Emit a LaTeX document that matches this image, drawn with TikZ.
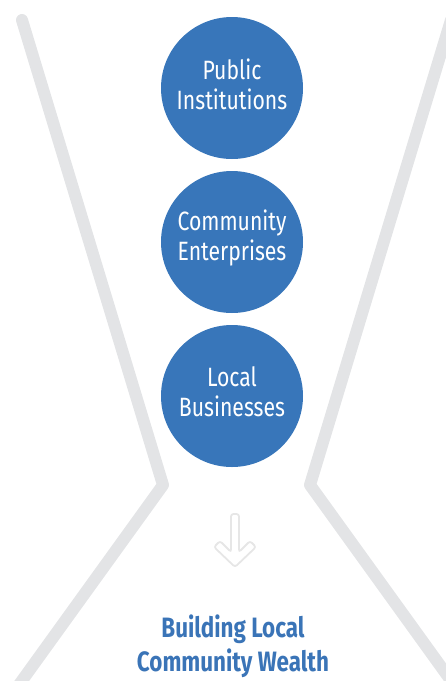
\documentclass[tikz,border=0pt]{standalone}
\usepackage{fontspec}
\newfontfamily\condfont[FakeStretch=0.80]{Fira Sans}
\definecolor{bubbleblue}{HTML}{3876BA}
\definecolor{titleblue}{HTML}{3A74B7}
\definecolor{funnelgray}{HTML}{E3E4E6}
\definecolor{arrowgray}{HTML}{E6E6E6}
\begin{document}
\begin{tikzpicture}[x=1pt,y=-1pt,
  bubble/.style={circle,fill=bubbleblue,minimum size=142pt,inner sep=0pt},
  btext/.style={text=white,align=center,font=\condfont\fontsize{26.5}{30}\selectfont,inner sep=0pt},
  funnel/.style={draw=funnelgray,line width=12pt,line cap=round,line join=round},
  title/.style={text=titleblue,align=center,font=\condfont\bfseries\fontsize{28}{34}\selectfont}]
\useasboundingbox (0,0) rectangle (446,681);
\begin{scope}
\clip (0,0) rectangle (446,681);
\coordinate (ltop) at (22,20);
\coordinate (lkink) at (163,485);
\coordinate (lbot) at (8,700);
\coordinate (rtop) at (451,20);
\coordinate (rkink) at (310,485);
\coordinate (rbot) at (465,700);
\draw[funnel] (ltop) -- (lkink) -- (lbot);
\draw[funnel] (rtop) -- (rkink) -- (rbot);
\end{scope}
\node[bubble] (pub) at (232,88) {};
\node[bubble] (com) at (232,242) {};
\node[bubble] (loc) at (232,396) {};
\node[btext] (pubtxt) at ([yshift=4pt]pub.center) {Public\\Institutions};
\node[btext] (comtxt) at ([yshift=4pt]com.center) {Community\\Enterprises};
\node[btext] (loctxt) at ([yshift=4pt]loc.center) {Local\\Businesses};
\draw[arrowgray,line width=1.8pt,rounded corners=2.5pt]
  (231,514) -- (239,514) -- (239,552) -- (250,541) -- (256,547) -- (235,567)
  -- (214,547) -- (220,541) -- (231,552) -- cycle;
\node[title] (wealth) at (233,646) {Building Local\\Community Wealth};
\end{tikzpicture}
\end{document}
